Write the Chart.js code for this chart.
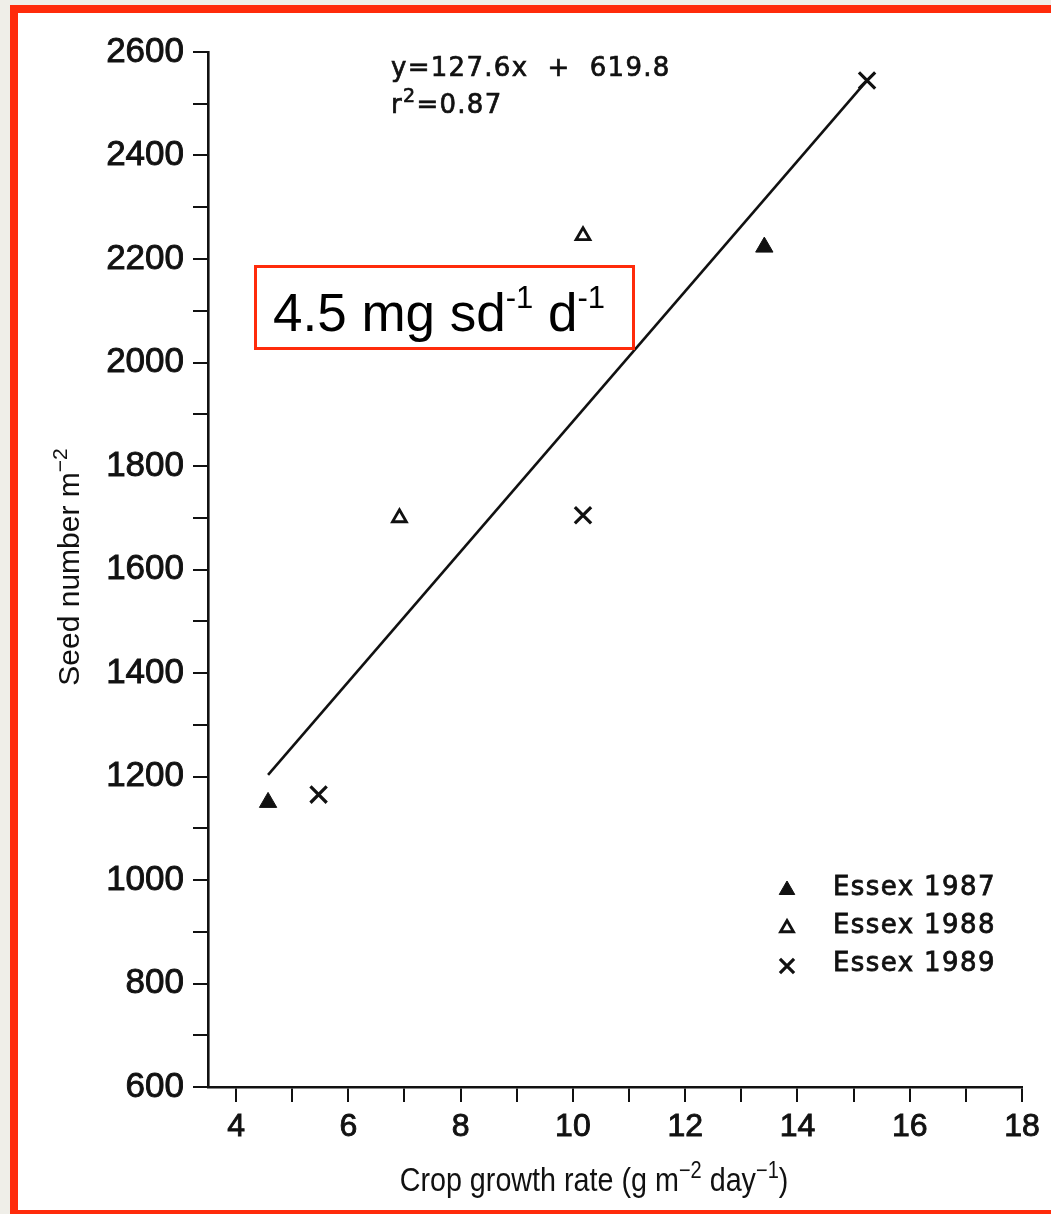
<!DOCTYPE html>
<html>
<head>
<meta charset="utf-8">
<script src="https://cdn.jsdelivr.net/npm/chart.js@4.4.1/dist/chart.umd.min.js"></script>
<style>
  html, body { margin: 0; padding: 0; background: #EFEEE8; width: 1051px; height: 1214px; overflow: hidden; }
  #frame { position: absolute; left: 10px; top: 5px; width: 1100px; height: 1197px; border: 8px solid #FF2B0B; background: #fff; }
  #wrap { position: absolute; left: 0; top: 0; width: 1051px; height: 1214px; }
</style>
</head>
<body>
<div id="frame"></div>
<div id="wrap"><canvas id="c" width="1051" height="1214"></canvas></div>
<script>
// ---- data ----
const seriesNames = ['Essex 1987', 'Essex 1988', 'Essex 1989'];
const x1987 = [4.57, 13.41];
const y1987 = [1150, 2223];
const x1988 = [6.91, 10.18];
const y1988 = [1700, 2245];
const x1989 = [5.47, 10.18, 15.24];
const y1989 = [1165, 1705, 2545];
// fitted line end points (as drawn)
const fitX = [4.57, 15.24];
const fitY = [1203, 2545];
// tick positions and labels
const xTickValues = [4, 5, 6, 7, 8, 9, 10, 11, 12, 13, 14, 15, 16, 17, 18];
const xTickLabels = ['4', '', '6', '', '8', '', '10', '', '12', '', '14', '', '16', '', '18'];
const yTickValues = [600, 700, 800, 900, 1000, 1100, 1200, 1300, 1400, 1500, 1600, 1700, 1800, 1900, 2000, 2100, 2200, 2300, 2400, 2500, 2600];
const yTickLabels = ['600', '', '800', '', '1000', '', '1200', '', '1400', '', '1600', '', '1800', '', '2000', '', '2200', '', '2400', '', '2600'];
const equationText = 'y=127.6x  +  619.8';
const r2Text = '=0.87';
const boxValue = '4.5 mg sd';
const xTitleParts = [['Crop growth rate (g m', 0], ['\u22122', 1], [' day', 0], ['\u22121', 1], [')', 0]];
const yTitleParts = [['Seed number m', 0], ['\u22122', 1]];

const pts = (xs, ys) => xs.map((x, i) => ({ x: x, y: ys[i] }));

function drawRich(ctx, parts, x, y, align, font, supFont, rise, stroke) {
  let w = 0;
  parts.forEach(p => { ctx.font = p[1] ? supFont : font; w += ctx.measureText(p[0]).width; });
  let cx = align === 'center' ? x - w / 2 : x;
  ctx.textAlign = 'left';
  ctx.textBaseline = 'alphabetic';
  parts.forEach(p => {
    ctx.font = p[1] ? supFont : font;
    const yy = p[1] ? y - rise : y;
    ctx.fillText(p[0], cx, yy);
    if (stroke) { ctx.lineWidth = stroke; ctx.strokeText(p[0], cx, yy); }
    cx += ctx.measureText(p[0]).width;
  });
}

const overlay = {
  id: 'overlay',
  afterDraw(chart) {
    const ctx = chart.ctx;
    ctx.save();
    ctx.fillStyle = '#111';
    ctx.strokeStyle = '#111';
    // equation
    ctx.letterSpacing = '1.3px';
    drawRich(ctx, [[equationText, 0]], 391, 76, 'left', '26px "DejaVu Sans"', '19px "DejaVu Sans"', 11, 0.7);
    drawRich(ctx, [['r', 0], ['2', 1], [r2Text, 0]], 391, 113, 'left', '26px "DejaVu Sans"', '19px "DejaVu Sans"', 11, 0.7);
    ctx.letterSpacing = '0px';

    // annotation box
    ctx.fillStyle = '#fff';
    ctx.fillRect(255, 266, 378, 82);
    ctx.strokeStyle = '#FF2B0B';
    ctx.lineWidth = 3;
    ctx.strokeRect(255.5, 266.5, 378, 82);
    ctx.fillStyle = '#000';
    drawRich(ctx, [[boxValue, 0], ['-1', 1], [' d', 0], ['-1', 1]], 273, 331, 'left',
      '53px "Liberation Sans"', '31px "Liberation Sans"', 23, 0);

    // legend
    const items = chart.data.datasets.filter(d => d.legendItem);
    items.forEach((ds, i) => {
      const yy = 887 + i * 38;
      ctx.fillStyle = ds.backgroundColor;
      ctx.strokeStyle = ds.borderColor;
      ctx.lineWidth = ds.borderWidth;
      Chart.helpers.drawPoint(ctx, {
        pointStyle: ds.pointStyle, radius: ds.legendRadius, rotation: 0, borderWidth: ds.borderWidth
      }, 787, yy + 3);
      ctx.fillStyle = '#111';
      ctx.strokeStyle = '#111';
      ctx.lineWidth = 0.8;
      ctx.font = '26px "DejaVu Sans"';
      ctx.letterSpacing = '1.4px';
      ctx.textAlign = 'left';
      ctx.textBaseline = 'middle';
      ctx.fillText(ds.label, 833, yy + 1);
      ctx.strokeText(ds.label, 833, yy + 1);
      ctx.letterSpacing = '0px';
    });
    ctx.restore();

    // axis titles
    ctx.save();
    ctx.fillStyle = '#111';
    ctx.translate(594, 1191);
    ctx.scale(0.87, 1);
    drawRich(ctx, xTitleParts, 0, 0, 'center',
      '33px "Liberation Sans"', '23px "Liberation Sans"', 13, 0);
    ctx.restore();
    ctx.save();
    ctx.fillStyle = '#111';
    ctx.translate(79, 567);
    ctx.rotate(-Math.PI / 2);
    drawRich(ctx, yTitleParts, 0, 0, 'center', '30px "Liberation Sans"', '21px "Liberation Sans"', 12, 0);
    ctx.restore();
  }
};

new Chart(document.getElementById('c'), {
  type: 'scatter',
  data: {
    datasets: [
      { label: 'fit', type: 'line', data: pts(fitX, fitY), borderColor: '#111', borderWidth: 2.6,
        pointRadius: 0, showLine: true, fill: false, tension: 0 },
      { label: seriesNames[0], legendItem: true, data: pts(x1987, y1987), pointStyle: 'triangle',
        pointRadius: 10, legendRadius: 9, backgroundColor: '#111', borderColor: '#111', borderWidth: 1 },
      { label: seriesNames[1], legendItem: true, data: pts(x1988, y1988), pointStyle: 'triangle',
        pointRadius: 8, legendRadius: 7.5, backgroundColor: '#fff', borderColor: '#111', borderWidth: 2.8 },
      { label: seriesNames[2], legendItem: true, data: pts(x1989, y1989), pointStyle: 'crossRot',
        pointRadius: 11.5, legendRadius: 10, backgroundColor: '#111', borderColor: '#111', borderWidth: 3.2 }
    ]
  },
  options: {
    responsive: false,
    animation: false,
    devicePixelRatio: 1,
    layout: { padding: { left: 0, top: 52, right: 29, bottom: 0 } },
    plugins: { legend: { display: false }, tooltip: { enabled: false } },
    scales: {
      x: {
        type: 'linear', min: 3.5, max: 18,
        afterFit: s => { s.height = 127; },
        afterBuildTicks: s => { s.ticks = xTickValues.map(v => ({ value: v })); },
        border: { display: true, color: '#111', width: 2.6 },
        grid: { drawOnChartArea: false, drawTicks: true, color: '#111', lineWidth: 2, tickLength: 15 },
        ticks: { autoSkip: false, maxRotation: 0, color: '#111', padding: 6,
          textStrokeColor: '#111', textStrokeWidth: 0.9,
          font: { family: '"Liberation Sans"', size: 32 },
          callback: (v) => xTickLabels[xTickValues.indexOf(v)] }
      },
      y: {
        type: 'linear', min: 600, max: 2600,
        afterFit: s => { s.width = 208; },
        afterBuildTicks: s => { s.ticks = yTickValues.map(v => ({ value: v })); },
        border: { display: true, color: '#111', width: 2.6 },
        grid: { drawOnChartArea: false, drawTicks: true, color: '#111', lineWidth: 2, tickLength: 15 },
        ticks: { autoSkip: false, color: '#111', padding: 9,
          textStrokeColor: '#111', textStrokeWidth: 0.9,
          font: { family: '"Liberation Sans"', size: 35 },
          callback: (v) => yTickLabels[yTickValues.indexOf(v)] }
      }
    }
  },
  plugins: [overlay]
});
</script>
</body>
</html>
